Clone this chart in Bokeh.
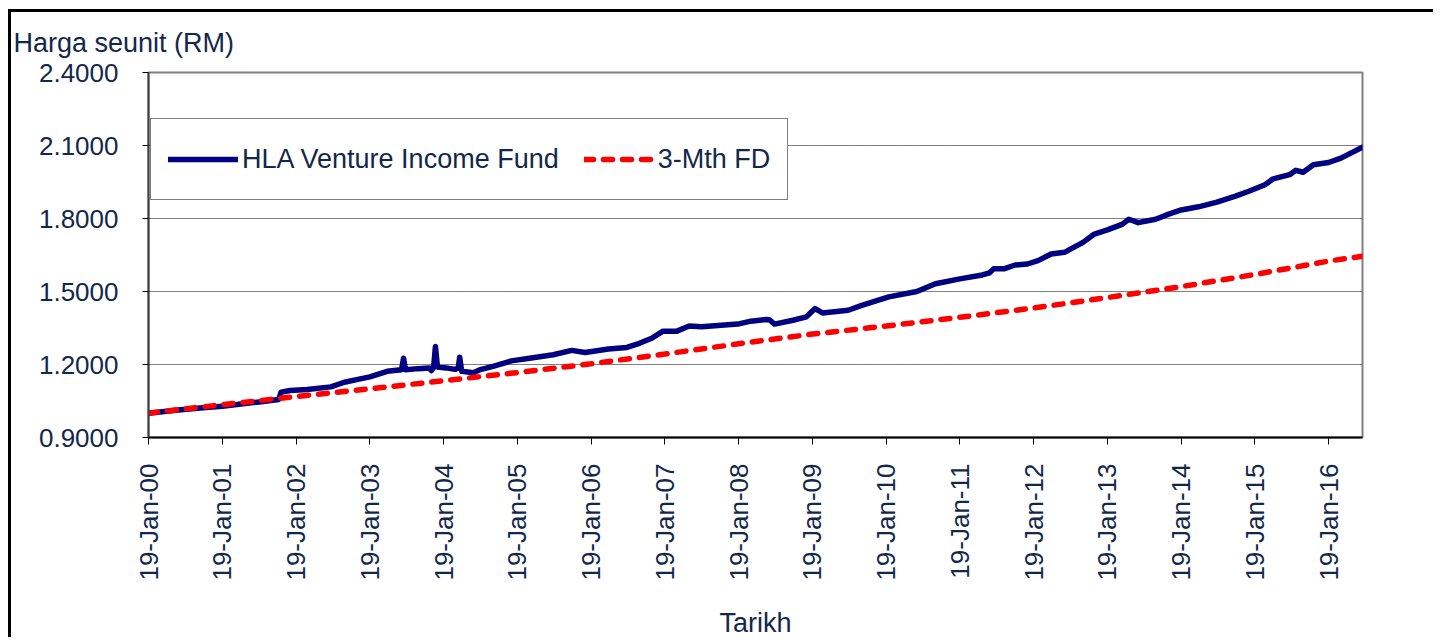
import math
import pandas as pd
from bokeh.plotting import figure
from bokeh.models import (FixedTicker, DatetimeTickFormatter, NumeralTickFormatter,
                          Legend, LegendItem, Range1d, Title)
from bokeh.embed import file_html
from bokeh.resources import INLINE

# ---------------- data ----------------
fund_dates = [
    "2000-01-19", "2000-06-01", "2000-10-15", "2001-01-19", "2001-04-20", "2001-07-20",
    "2001-10-25", "2001-11-05", "2001-12-20", "2002-03-15", "2002-07-10", "2002-09-15",
    "2002-11-15", "2003-01-19", "2003-04-15", "2003-06-25", "2003-07-05", "2003-07-15",
    "2003-09-15", "2003-11-10", "2003-11-20", "2003-12-01", "2003-12-10", "2003-12-20",
    "2004-02-01", "2004-03-15", "2004-04-01", "2004-04-08", "2004-04-18", "2004-06-15",
    "2004-07-15", "2004-09-20", "2004-12-20", "2005-03-20", "2005-07-15", "2005-10-15",
    "2005-12-20", "2006-04-15", "2006-07-15", "2006-09-15", "2006-11-15", "2007-01-10",
    "2007-03-20", "2007-05-20", "2007-07-20", "2008-01-15", "2008-03-20", "2008-06-01",
    "2008-06-20", "2008-07-15", "2008-10-15", "2008-12-20", "2009-02-01", "2009-03-10",
    "2009-07-15", "2009-09-20", "2010-02-01", "2010-06-20", "2010-09-20", "2011-01-19",
    "2011-05-10", "2011-06-15", "2011-07-05", "2011-08-25", "2011-10-20", "2011-12-20",
    "2012-02-10", "2012-04-15", "2012-06-20", "2012-09-20", "2012-11-15", "2013-01-19",
    "2013-04-01", "2013-05-05", "2013-06-20", "2013-09-15", "2013-11-15", "2014-01-19",
    "2014-04-15", "2014-07-15", "2014-10-15", "2014-12-20", "2015-03-10", "2015-04-20",
    "2015-07-10", "2015-08-10", "2015-09-15", "2015-11-05", "2016-01-19", "2016-03-20",
    "2016-07-05",
]
fund_values = [
    1.000, 1.012, 1.022, 1.028, 1.038, 1.046,
    1.056, 1.086, 1.093, 1.097, 1.108, 1.127,
    1.138, 1.149, 1.172, 1.178, 1.226, 1.178,
    1.183, 1.186, 1.175, 1.188, 1.274, 1.190,
    1.186, 1.180, 1.185, 1.230, 1.172, 1.166,
    1.178, 1.192, 1.215, 1.226, 1.240, 1.258,
    1.249, 1.264, 1.270, 1.287, 1.308, 1.337,
    1.337, 1.358, 1.355, 1.366, 1.378, 1.385,
    1.384, 1.366, 1.382, 1.396, 1.430, 1.412,
    1.423, 1.443, 1.478, 1.500, 1.532, 1.552,
    1.568, 1.577, 1.593, 1.593, 1.609, 1.613,
    1.627, 1.654, 1.661, 1.702, 1.736, 1.753,
    1.776, 1.797, 1.783, 1.797, 1.817, 1.835,
    1.848, 1.867, 1.892, 1.912, 1.939, 1.963,
    1.980, 1.998, 1.990, 2.021, 2.030, 2.048,
    2.093,
]

fd_dates = [
    "2000-01-19", "2001-01-19", "2002-01-19", "2003-01-19", "2004-01-19", "2005-01-19",
    "2006-01-19", "2007-01-19", "2008-01-19", "2009-01-19", "2010-01-19", "2011-01-19",
    "2012-01-19", "2013-01-19", "2014-01-19", "2015-01-19", "2016-01-19", "2016-07-05",
]
fd_values = [
    1.000, 1.035, 1.068, 1.100, 1.133, 1.167,
    1.203, 1.243, 1.285, 1.325, 1.358, 1.394,
    1.432, 1.475, 1.520, 1.570, 1.625, 1.645,
]

tick_dates = [f"{y}-01-19" for y in range(2000, 2017)]
y_ticks = [0.9, 1.2, 1.5, 1.8, 2.1, 2.4]

series_names = ["HLA Venture Income Fund", "3-Mth FD"]
y_caption = "Harga seunit (RM)"
x_caption = "Tarikh"

# ---------------- style ----------------
FONT = "Liberation Sans"
TXT = "#12284b"
FS = "26px"
FS_BIG = "27px"

fx = pd.to_datetime(fund_dates)
dx = pd.to_datetime(fd_dates)

p = figure(width=1425, height=628, output_backend="svg", toolbar_location=None,
           x_axis_type="datetime",
           x_range=Range1d(pd.Timestamp(fund_dates[0]), pd.Timestamp(fund_dates[-1])),
           y_range=Range1d(0.9, 2.4),
           min_border_left=137, min_border_right=74, min_border_top=60, min_border_bottom=200)
p.styles = {"margin-left": "8px", "margin-top": "9px",
            "border-left": "3px solid #000000", "border-top": "3px solid #000000"}

r1 = p.line(fx, fund_values, line_color="#000080", line_width=5.5, line_join="round", line_cap="round")
r2 = p.line(dx, fd_values, line_color="#ff0000", line_width=5.5, line_dash="9 10", line_cap="round")

# axes
p.xaxis.ticker = FixedTicker(ticks=[pd.Timestamp(d).value / 1e6 for d in tick_dates])
fmt = "%d-%b-%y"
p.xaxis.formatter = DatetimeTickFormatter(days=fmt, months=fmt, years=fmt, hours=fmt,
                                          minutes=fmt, seconds=fmt, milliseconds=fmt,
                                          microseconds=fmt, minsec=fmt, hourmin=fmt)
p.xaxis.major_label_orientation = math.pi / 2
p.xaxis.minor_tick_line_color = None
p.xaxis.major_tick_in = 0
p.xaxis.major_tick_out = 7
p.xaxis.major_label_standoff = 19
p.xaxis.axis_label = x_caption
p.xaxis.axis_label_standoff = 24
p.xaxis.axis_line_color = "#000000"
p.xaxis.axis_line_width = 2
p.xaxis.major_tick_line_color = "#000000"

p.yaxis.ticker = FixedTicker(ticks=y_ticks)
p.yaxis.formatter = NumeralTickFormatter(format="0.0000")
p.yaxis.minor_tick_line_color = None
p.yaxis.major_tick_in = 0
p.yaxis.major_tick_out = 6
p.yaxis.major_label_standoff = 24
p.yaxis.axis_line_color = "#404040"
p.yaxis.axis_line_width = 2
p.yaxis.major_tick_line_color = "#000000"

for ax in (p.xaxis, p.yaxis):
    ax.major_label_text_font = FONT
    ax.major_label_text_font_size = FS
    ax.major_label_text_color = TXT
    ax.axis_label_text_font = FONT
    ax.axis_label_text_font_size = FS_BIG
    ax.axis_label_text_color = TXT
    ax.axis_label_text_font_style = "normal"

p.xgrid.grid_line_color = None
p.ygrid.ticker = FixedTicker(ticks=y_ticks)
p.ygrid.grid_line_color = "#000000"
p.ygrid.grid_line_dash = "1 1"
p.ygrid.grid_line_width = 1

p.outline_line_color = "#808080"
p.outline_line_width = 2
p.background_fill_color = "white"
p.border_fill_color = "white"

# y caption at the top left, as a title
caption = Title(text=y_caption, align="left", vertical_align="top", offset=-135, standoff=26,
                text_font=FONT, text_font_size=FS_BIG, text_color=TXT, text_font_style="normal")
p.add_layout(caption, "above")

legend = Legend(items=[LegendItem(label=series_names[0], renderers=[r1]),
                       LegendItem(label=series_names[1], renderers=[r2])],
                orientation="horizontal", location=(2, 237),
                label_text_font=FONT, label_text_font_size=FS_BIG, label_text_color=TXT,
                glyph_width=70, glyph_height=20, label_standoff=4, spacing=25,
                padding=17, margin=0, label_height=46,
                border_line_color="#000000", border_line_width=1,
                background_fill_color="white", background_fill_alpha=1)
p.add_layout(legend, "center")

open("out.html", "w").write(file_html(p, INLINE))
